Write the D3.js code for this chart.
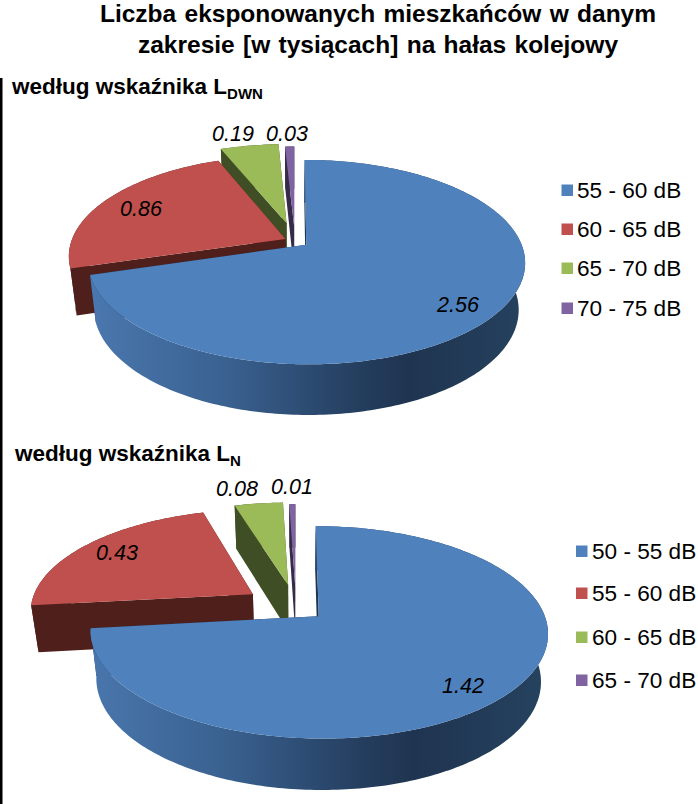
<!DOCTYPE html>
<html><head><meta charset="utf-8">
<script src="https://cdnjs.cloudflare.com/ajax/libs/d3/7.8.5/d3.min.js"></script>
<style>html,body{margin:0;padding:0;background:#fff}svg{display:block}text{font-family:"Liberation Sans",Arial,sans-serif;fill:#000}</style>
</head><body><svg id="c" width="698" height="804"></svg>
<script>
const titleLines = ["Liczba eksponowanych mieszkańców w danym", "zakresie [w tysiącach] na hałas kolejowy"];
const valuesDwn = [2.56, 0.86, 0.19, 0.03];
const valuesN = [1.42, 0.43, 0.08, 0.01];
const labelsDwn = ["55 - 60 dB", "60 - 65 dB", "65 - 70 dB", "70 - 75 dB"];
const labelsN = ["50 - 55 dB", "55 - 60 dB", "60 - 65 dB", "65 - 70 dB"];
const valueTextDwn = ["2.56", "0.86", "0.19", "0.03"];
const valueTextN = ["1.42", "0.43", "0.08", "0.01"];
const topColors = ["#4f81bd", "#c0504d", "#9bbb59", "#8064a2"];
const wallColors = [null, "#4f1f1c", "#3f4e24", "#352a47"];

const layoutDwn = {id:"a", cx:295, cy:241, R:214, k:98, d:0.168, h:46, s:0.972,
  explode:[0.065, 0.05, 0.19, 0.15],
  valueAt:[[458,304],[141,208],[233,133],[287,133]],
  sub:{x:12, y:94, main:"według wskaźnika L", low:"DWN"},
  legend:{sx:561.5, tx:577, ys:[190,229,268,308]}};
const layoutN = {id:"b", cx:296, cy:607, R:223, k:101, d:0.15, h:47, s:0.972,
  explode:[0.135, 0.236, 0.227, 0.2],
  valueAt:[[463,685],[117,552],[237,488],[292,486]],
  sub:{x:15, y:461, main:"według wskaźnika L", low:"N"},
  legend:{sx:576, tx:592, ys:[551,593,637,680]}};

const svg = d3.select("#c");
const defs = svg.append("defs");
svg.append("rect").attr("x",0).attr("y",78).attr("width",2.5).attr("height",726).attr("fill","#000");

svg.append("g").selectAll("text").data(titleLines).join("text")
  .attr("x",378).attr("y",(d,i)=>22+i*31).attr("text-anchor","middle")
  .attr("font-size",24.5).attr("font-weight","bold").attr("word-spacing",1.5).text(d=>d);

const line = d3.line();
function drawPie(values, labels, valueText, L){
  const g = svg.append("g");
  const arcs = d3.pie().sort(null).startAngle(0).endAngle(2*Math.PI)(values);
  const proj = (U,V,low)=>{
    const p = 1/(1-L.d*V);
    const xo = L.R*U*p, yo = L.k*V*p;
    return low ? [L.cx+xo*L.s, L.cy+yo+L.h*Math.sqrt(p)] : [L.cx+xo, L.cy+yo];
  };
  const gradId = "wall"+L.id;
  const left = L.cx-L.R*0.95, right = L.cx+L.R*1.1;
  const grad = defs.append("linearGradient").attr("id",gradId).attr("gradientUnits","userSpaceOnUse")
    .attr("x1",left).attr("x2",right).attr("y1",0).attr("y2",0);
  [[0,"#4a77ae"],[0.3,"#3a6291"],[0.6,"#253f60"],[0.72,"#1f3450"],[1,"#25425f"]]
    .forEach(s=>grad.append("stop").attr("offset",s[0]).attr("stop-color",s[1]));

  // paint from back to front: purple, green, red, blue
  d3.range(arcs.length).reverse().forEach(i=>{
    const a = arcs[i], mid=(a.startAngle+a.endAngle)/2, e=L.explode[i];
    const ox=Math.sin(mid)*e, oy=-Math.cos(mid)*e;
    const n=Math.max(4,Math.ceil((a.endAngle-a.startAngle)/(Math.PI/180)));
    const ang=d3.range(n+1).map(j=>a.startAngle+(a.endAngle-a.startAngle)*j/n);
    const rim=low=>ang.map(t=>proj(ox+Math.sin(t),oy-Math.cos(t),low));
    const apex=low=>proj(ox,oy,low);
    const wall=wallColors[i]||`url(#${gradId})`;
    const radialFill=wallColors[i]||"#1f3450";
    const topRim=rim(false), lowRim=rim(true);
    // radial walls
    g.append("path").attr("d",line([apex(false),topRim[0],lowRim[0],apex(true)])+"Z").attr("fill",radialFill);
    g.append("path").attr("d",line([apex(false),topRim[n],lowRim[n],apex(true)])+"Z").attr("fill",radialFill);
    // outer wall
    g.append("path").attr("d",line(topRim.concat(lowRim.slice().reverse()))+"Z").attr("fill",wall);
    // top face
    g.append("path").attr("d",line([apex(false)].concat(topRim))+"Z").attr("fill",topColors[i]);
  });

  g.selectAll("text.v").data(valueText).join("text").attr("class","v")
    .attr("x",(d,i)=>L.valueAt[i][0]).attr("y",(d,i)=>L.valueAt[i][1]).attr("dy","0.35em")
    .attr("text-anchor","middle").attr("font-size",21.5).attr("font-style","italic").text(d=>d);

  const sub = g.append("text").attr("x",L.sub.x).attr("y",L.sub.y).attr("font-size",22.5).attr("font-weight","bold");
  sub.append("tspan").text(L.sub.main);
  sub.append("tspan").attr("dy",5).attr("font-size",15).text(L.sub.low);

  const lg = g.append("g");
  lg.selectAll("rect").data(labels).join("rect")
    .attr("x",L.legend.sx).attr("y",(d,i)=>L.legend.ys[i]-5.5).attr("width",11.5).attr("height",11.5)
    .attr("fill",(d,i)=>topColors[i]);
  lg.selectAll("text").data(labels).join("text")
    .attr("x",L.legend.tx).attr("y",(d,i)=>L.legend.ys[i]).attr("dy","0.36em")
    .attr("font-size",22.6).text(d=>d);
}
drawPie(valuesDwn, labelsDwn, valueTextDwn, layoutDwn);
drawPie(valuesN, labelsN, valueTextN, layoutN);
</script></body></html>
